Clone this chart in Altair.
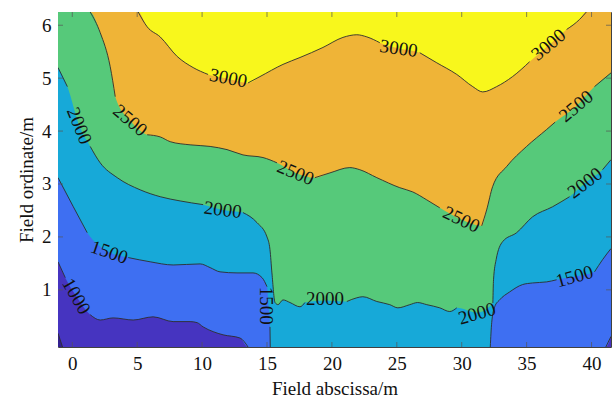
import altair as alt
import pandas as pd

# Axis limits (tight to the measured field)
X_MIN, X_MAX = -1.1, 41.5
Y_MIN, Y_MAX = -0.08, 6.25

X_TICKS = [0, 5, 10, 15, 20, 25, 30, 35, 40]
Y_TICKS = [1, 2, 3, 4, 5, 6]

# Contour polylines. seg > 0: drawn line piece; seg == 0: point on the border
# or hidden under a level label (kept for the filled band only).
C3000_X = [-1.1, 5.08, 5.77, 6.77, 8.08, 9.31, 10.46, 12.0, 13.54, 14.46, 16.23, 17.54,
           19.31, 20.85, 21.92, 22.69, 23.69, 25.15, 26.77, 28.08, 29.62, 30.85, 31.62,
           32.69, 33.92, 35.23, 36.69, 38.08, 39.08, 39.6, 41.5]
C3000_Y = [6.25, 6.25, 5.97, 5.78, 5.41, 5.20, 5.07, 4.99, 4.91, 5.03, 5.26, 5.39,
           5.58, 5.77, 5.82, 5.78, 5.67, 5.56, 5.48, 5.29, 5.07, 4.84, 4.74,
           4.84, 5.03, 5.31, 5.62, 5.92, 6.11, 6.25, 6.25]
C3000_SEG = [0, 1, 1, 1, 1, 1, 1, 0, 2, 2, 2, 2,
             2, 2, 2, 2, 2, 0, 3, 3, 3, 3, 3,
             3, 3, 3, 0, 4, 4, 4, 0]

C2500_X = [-1.1, 1.38, 2.15, 2.92, 3.31, 4.46, 5.77, 6.77, 7.54, 9.08, 10.62, 11.92,
           13.15, 14.69, 15.77, 17.2, 18.69, 19.85, 21.38, 22.15, 23.46, 25.23, 26.23,
           27.31, 28.31, 29.97, 31.54, 31.92, 32.38, 33.46, 35.0, 36.54, 37.2, 38.82,
           40.23, 41.5]
C2500_Y = [6.25, 6.25, 5.86, 5.22, 4.65, 4.20, 3.93, 3.89, 3.80, 3.74, 3.71, 3.65,
           3.55, 3.50, 3.40, 3.21, 3.12, 3.21, 3.31, 3.27, 3.12, 2.93, 2.85,
           2.70, 2.55, 2.33, 2.21, 2.51, 2.95, 3.33, 3.71, 4.03, 4.17, 4.47,
           4.84, 5.10]
C2500_SEG = [0, 1, 1, 1, 1, 0, 2, 2, 2, 2, 2, 2,
             2, 2, 2, 0, 3, 3, 3, 3, 3, 3, 3,
             3, 3, 0, 4, 4, 4, 4, 4, 4, 4, 0,
             5, 5]

C2000_X = [-1.1, -0.38, 0.54, 1.38, 2.15, 3.46, 5.23, 6.77, 8.31, 10.08, 11.59, 13.15,
           14.23, 15.0, 15.23, 15.38, 15.62, 15.85, 16.23, 16.77, 17.54, 17.92, 19.46,
           21.15, 21.92, 22.38, 23.46, 24.46, 25.08, 26.0, 26.6, 27.31, 28.31, 29.08,
           29.62, 31.18, 32.4, 32.45, 32.65, 33.15, 34.23, 35.46, 37.0, 38.31, 39.51,
           40.85, 41.5]
C2000_Y = [5.20, 4.84, 4.10, 3.71, 3.40, 3.12, 2.89, 2.76, 2.68, 2.61, 2.51, 2.46,
           2.27, 2.00, 1.76, 1.32, 0.76, 0.72, 0.81, 0.76, 0.68, 0.76, 0.80,
           0.78, 0.85, 0.87, 0.78, 0.72, 0.66, 0.72, 0.76, 0.72, 0.66, 0.59,
           0.66, 0.57, 0.75, 1.19, 1.57, 1.91, 2.08, 2.38, 2.57, 2.76, 3.02,
           3.27, 3.46]
C2000_SEG = [1, 1, 0, 2, 2, 2, 2, 2, 2, 2, 0, 3,
             3, 3, 3, 3, 3, 3, 3, 3, 3, 3, 0,
             4, 4, 4, 4, 4, 4, 4, 4, 4, 4, 4,
             4, 0, 5, 5, 5, 5, 5, 5, 5, 5, 0,
             6, 6]

C1500_X = [-1.1, 0.08, 1.15, 2.85, 4.31, 6.0, 7.77, 9.85, 10.62, 11.38, 12.69, 13.92,
           14.62, 15.0, 15.12, 15.23, 15.25, 32.2, 32.31, 32.54, 32.92, 33.69, 34.69,
           35.46, 36.54, 37.31, 38.69, 40.23, 40.85, 41.5]
C1500_Y = [3.12, 2.57, 2.08, 1.71, 1.61, 1.53, 1.47, 1.49, 1.42, 1.34, 1.32, 1.32,
           1.23, 1.06, 0.70, 0.30, -0.08, -0.08, 0.38, 0.68, 0.81, 0.96, 1.10,
           1.13, 1.15, 1.19, 1.25, 1.34, 1.57, 1.78]
C1500_SEG = [1, 1, 1, 0, 2, 2, 2, 2, 2, 2, 2, 2,
             2, 2, 0, 3, 3, 4, 4, 4, 4, 4, 4,
             4, 4, 4, 0, 5, 5, 5]

C1000_X = [-1.1, -0.54, 0.31, 1.38, 2.15, 3.15, 4.69, 6.23, 7.77, 9.08, 9.62, 10.08,
           10.85, 11.62, 12.92, 13.54, 41.1, 41.5]
C1000_Y = [1.53, 1.23, 0.88, 0.53, 0.43, 0.47, 0.43, 0.49, 0.40, 0.40, 0.38, 0.30,
           0.21, 0.15, 0.09, -0.08, -0.08, 0.12]
C1000_SEG = [1, 1, 0, 2, 2, 2, 2, 2, 2, 2, 2, 2,
             2, 2, 2, 2, 3, 3]

C500_X = [-1.1, -0.75]
C500_Y = [0.18, -0.08]
C500_SEG = [1, 1]

# Inline level labels
LABEL_TEXT = ["3000", "3000", "3000", "2500", "2500", "2500", "2500",
              "2000", "2000", "2000", "2000", "2000", "1500", "1500", "1500", "1000"]
LABEL_X = [12.02, 25.15, 36.69, 4.46, 17.2, 29.97, 38.82,
           0.54, 11.59, 19.46, 31.18, 39.51, 2.85, 14.92, 38.69, 0.31]
LABEL_Y = [5.00, 5.56, 5.63, 4.20, 3.21, 2.33, 4.47,
           4.10, 2.51, 0.83, 0.55, 3.02, 1.71, 0.70, 1.25, 0.88]
LABEL_ANGLE = [11, 8, 320, 40, 22, 25, 320,
               68, 7, 0, 344, 323, 19, 90, 344, 60]

# Band fill colours, from the top level down
COLOR_ABOVE_3000 = "#f8f71c"
COLOR_2500_3000 = "#efb437"
COLOR_2000_2500 = "#56c97a"
COLOR_1500_2000 = "#17a9d8"
COLOR_1000_1500 = "#3e6ff2"
COLOR_500_1000 = "#4634c0"
COLOR_BELOW_500 = "#33208f"

SERIF = "Liberation Serif"
CURVE = "monotone"

XSCALE = alt.Scale(domain=[X_MIN, X_MAX], nice=False, zero=False)
YSCALE = alt.Scale(domain=[Y_MIN, Y_MAX], nice=False, zero=False)

AX_X = alt.Axis(values=X_TICKS, title="Field abscissa/m", ticks=False, tickSize=0,
                domain=False, grid=False, labelFont=SERIF, labelFontSize=19,
                labelColor="#111", labelPadding=7, titleFont=SERIF, titleFontSize=19,
                titleFontWeight="normal", titleColor="#111", titlePadding=6)
AX_Y = alt.Axis(values=Y_TICKS, title="Field ordinate/m", ticks=False, tickSize=0,
                domain=False, grid=False, labelFont=SERIF, labelFontSize=19,
                labelColor="#111", labelPadding=7, titleFont=SERIF, titleFontSize=19,
                titleFontWeight="normal", titleColor="#111", titlePadding=5)


def enc_x(field="x"):
    return alt.X(f"{field}:Q", scale=XSCALE, axis=AX_X)


def enc_y(field="y"):
    return alt.Y(f"{field}:Q", scale=YSCALE, axis=AX_Y)


def contour_df(xs, ys, segs, level):
    return pd.DataFrame({"x": xs, "y": ys, "seg": segs, "level": level,
                         "base": Y_MIN})


contours = [
    (3000, contour_df(C3000_X, C3000_Y, C3000_SEG, 3000), COLOR_2500_3000),
    (2500, contour_df(C2500_X, C2500_Y, C2500_SEG, 2500), COLOR_2000_2500),
    (2000, contour_df(C2000_X, C2000_Y, C2000_SEG, 2000), COLOR_1500_2000),
    (1500, contour_df(C1500_X, C1500_Y, C1500_SEG, 1500), COLOR_1000_1500),
    (1000, contour_df(C1000_X, C1000_Y, C1000_SEG, 1000), COLOR_500_1000),
    (500, contour_df(C500_X, C500_Y, C500_SEG, 500), COLOR_BELOW_500),
]

# Top band fills the whole field; each lower band is painted over it
top_df = pd.DataFrame({"x": [X_MIN, X_MAX], "y": [Y_MAX, Y_MAX], "base": Y_MIN})
layers = [
    alt.Chart(top_df).mark_area(color=COLOR_ABOVE_3000, clip=True).encode(
        x=enc_x(), y=enc_y(), y2="base:Q")
]
for level, df, color in contours:
    layers.append(
        alt.Chart(df).mark_area(color=color, clip=True, interpolate=CURVE).encode(
            x=enc_x(), y=enc_y(), y2="base:Q")
    )

# Contour lines, broken into pieces around the labels
line_df = pd.concat([df for _, df, _ in contours], ignore_index=True)
line_df = line_df[line_df["seg"] > 0].copy()
line_df["piece"] = line_df["level"].astype(str) + "-" + line_df["seg"].astype(str)
layers.append(
    alt.Chart(line_df).mark_line(color="#2e2e2e", strokeWidth=0.9, clip=True,
                                 interpolate=CURVE).encode(
        x=enc_x(), y=enc_y(), detail="piece:N")
)

label_df = pd.DataFrame({"x": LABEL_X, "y": LABEL_Y, "text": LABEL_TEXT,
                         "angle": LABEL_ANGLE})
layers.append(
    alt.Chart(label_df).mark_text(font=SERIF, fontSize=19, color="#111",
                                  align="center", baseline="middle").encode(
        x=enc_x(), y=enc_y(), text="text:N",
        angle=alt.Angle("angle:Q", scale=None))
)

# Inward tick marks on all four sides (half of each tick is clipped away)
TICK_COLOR = "#555555"
bottom_ticks = pd.DataFrame({"x": X_TICKS, "y": Y_MIN})
top_ticks = pd.DataFrame({"x": X_TICKS, "y": Y_MAX})
left_ticks = pd.DataFrame({"x": X_MIN, "y": Y_TICKS})
right_ticks = pd.DataFrame({"x": X_MAX, "y": Y_TICKS})
for tdf, orient in [(bottom_ticks, "vertical"), (top_ticks, "vertical"),
                    (left_ticks, "horizontal"), (right_ticks, "horizontal")]:
    layers.append(
        alt.Chart(tdf).mark_tick(orient=orient, size=10, thickness=1,
                                 color=TICK_COLOR, clip=True).encode(
            x=enc_x(), y=enc_y())
    )

chart = alt.layer(*layers).properties(
    width=553,
    height=335,
    autosize=alt.AutoSizeParams(type="none"),
    padding={"left": 58, "top": 12, "right": 1, "bottom": 54},
).configure_view(stroke="#404040", strokeWidth=1)

chart.save("out.html", embed_options={"renderer": "svg", "actions": False})
